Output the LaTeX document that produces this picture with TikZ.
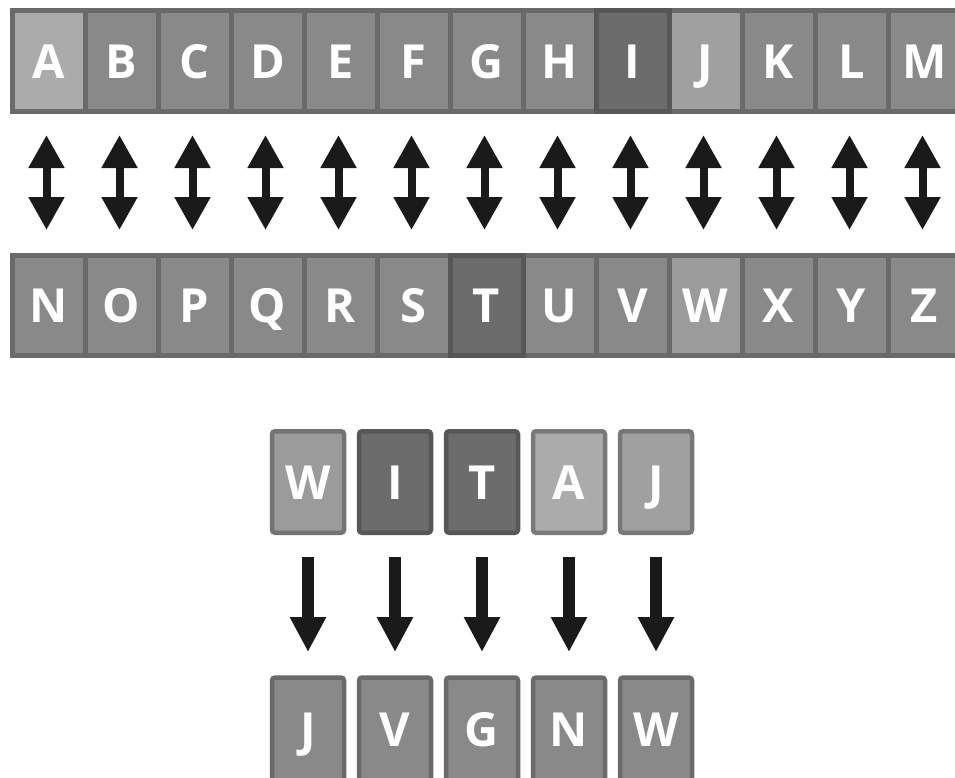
\documentclass[tikz,border=0pt]{standalone}
\usepackage{fontspec}
\setmainfont{Open Sans}
\usetikzlibrary{arrows.meta}
\definecolor{cellfill}{HTML}{898989}
\definecolor{cellline}{HTML}{6A6A6A}
\definecolor{lightA}{HTML}{ABABAB}
\definecolor{lightJ}{HTML}{A0A0A0}
\definecolor{lightW}{HTML}{9B9B9B}
\definecolor{darkfill}{HTML}{6C6C6C}
\definecolor{darkline}{HTML}{575757}
\definecolor{lineA}{HTML}{7A7A7A}
\definecolor{lineJ}{HTML}{787878}
\definecolor{lineW}{HTML}{737373}
\definecolor{arrowcol}{HTML}{1A1A1A}
\begin{document}
\begin{tikzpicture}[x=1pt,y=-1pt,
  cell/.style={draw=cellline, line width=5pt, fill=cellfill, minimum width=73pt,
    inner sep=0pt, outer sep=0pt, text=white, text height=34pt, text depth=0pt,
    font=\fontsize{47}{47}\selectfont\bfseries},
  card/.style={cell, minimum width=72pt, line width=4.5pt, rounded corners=3pt},
  dblarrow/.style={draw=arrowcol, line width=8pt,
    {Triangle[width=34pt,length=33pt]}-{Triangle[width=34pt,length=33pt]},
    shorten <=23.5pt, shorten >=25.5pt},
  downarrow/.style={draw=arrowcol, line width=12pt, -{Triangle[width=34pt,length=35pt]},
    shorten <=24pt, shorten >=25.5pt},
]
\clip (0,0) rectangle (955,777);
\fill[white] (0,0) rectangle (955,777);
% top row
\foreach \l/\c [count=\i from 0] in {A/lightA,B/cellfill,C/cellfill,D/cellfill,E/cellfill,F/cellfill,G/cellfill,H/cellfill,I/darkfill,J/lightJ,K/cellfill,L/cellfill,M/cellfill}
  \node[cell, minimum height=101pt, fill=\c] (t\l) at (48.5+73*\i, 61) {\l};
% second row
\foreach \l/\c [count=\i from 0] in {N/cellfill,O/cellfill,P/cellfill,Q/cellfill,R/cellfill,S/cellfill,T/darkfill,U/cellfill,V/cellfill,W/lightW,X/cellfill,Y/cellfill,Z/cellfill}
  \node[cell, minimum height=100pt, fill=\c] (b\l) at (48.5+73*\i, 305.5) {\l};
% darker frames
\draw[darkline, line width=5pt] (tI.north west) rectangle (tI.south east);
\draw[darkline, line width=5pt] (bT.north west) rectangle (bT.south east);
% double arrows
\foreach \a/\b in {A/N,B/O,C/P,D/Q,E/R,F/S,G/T,H/U,I/V,J/W,K/X,L/Y,M/Z}
  \draw[dblarrow] ([xshift=-2pt]t\a.south) -- ([xshift=-2pt]b\b.north);
% cipher cards
\foreach \l/\c/\d [count=\i from 0] in {W/lightW/lineW,I/darkfill/darkline,T/darkfill/darkline,A/lightA/lineA,J/lightJ/lineJ}
  \node[card, minimum height=101.5pt, fill=\c, draw=\d] (w\i) at (308+87*\i, 482) {\l};
\foreach \l [count=\i from 0] in {J,V,G,N,W}
  \node[card, minimum height=104.5pt] (r\i) at (308+87*\i, 729.75) {\l};
\foreach \i in {0,...,4}
  \draw[downarrow] (w\i) -- (r\i);
\end{tikzpicture}
\end{document}
